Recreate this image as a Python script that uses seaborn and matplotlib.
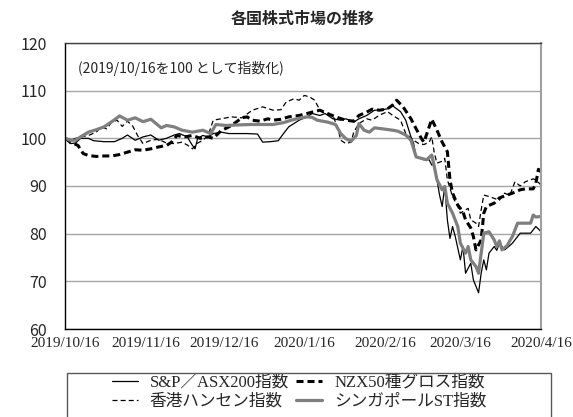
import matplotlib
matplotlib.use('Agg')
import matplotlib.pyplot as plt
from matplotlib.patches import Rectangle
import numpy as np
import pandas as pd
import seaborn as sns

# base date: every series is indexed to 100 on this day
start = pd.Timestamp('2019-10-16')
end = pd.Timestamp('2020-04-16')

tick_dates = ['2019-10-16', '2019-11-16', '2019-12-16', '2020-01-16',
              '2020-02-16', '2020-03-16', '2020-04-16']
tick_labels = ['2019/10/16', '2019/11/16', '2019/12/16', '2020/1/16',
               '2020/2/16', '2020/3/16', '2020/4/16']
y_ticks = [60, 70, 80, 90, 100, 110, 120]

# S&P/ASX200 (days since 2019/10/16, index value)
asx_day = [0, 2, 4, 6, 9, 11, 15, 19, 22, 24, 27, 30, 33, 36, 39, 42, 44, 47, 49, 50,
           51, 53, 55, 57, 60, 63, 67, 70, 74, 76, 79, 82, 84, 86, 88, 90, 93, 95, 98, 100,
           103, 106, 108, 111, 113, 116, 119, 121, 124, 126, 129, 131, 133, 134, 135, 138, 140, 141, 142, 143,
           144, 145, 146, 147, 148, 149, 150, 152, 153, 154, 156, 157, 159, 160, 161, 162, 163, 165, 166, 167,
           169, 171, 172, 174, 175, 179, 181, 182, 183]
asx_val = [100.0, 98.9, 99.0, 100.0, 100.0, 99.5, 99.3, 99.3, 100.0, 100.7, 99.6, 100.3, 100.7, 99.6, 100.0, 100.7, 101.0, 100.3, 98.5, 97.8,
           100.0, 100.6, 100.3, 101.0, 101.3, 101.0, 101.0, 101.0, 100.9, 99.2, 99.3, 99.5, 101.0, 102.4, 103.1, 103.8, 104.5, 105.2, 104.8, 105.2,
           104.1, 103.8, 104.1, 103.4, 104.1, 104.8, 105.9, 105.9, 106.2, 106.8, 105.6, 103.8, 100.3, 99.0, 96.1, 95.5, 95.5, 94.4, 94.5, 91.3,
           88.1, 85.7, 89.9, 82.9, 79.0, 81.5, 79.5, 74.5, 77.3, 71.7, 73.8, 70.3, 67.6, 71.7, 74.5, 72.4, 75.9, 77.3, 76.5, 78.0,
           76.6, 77.5, 78.0, 79.4, 80.1, 80.1, 81.5, 81.0, 80.4]

# NZX50 gross
nzx_day = [0, 3, 5, 7, 9, 12, 15, 18, 21, 24, 27, 30, 33, 36, 39, 41, 43, 46, 49, 52,
           55, 57, 60, 63, 65, 68, 70, 72, 75, 78, 80, 83, 86, 90, 93, 95, 98, 101, 104, 108,
           111, 113, 116, 118, 121, 124, 126, 127.5, 130, 133, 135, 137, 138, 140, 141, 143, 145, 147, 148, 149,
           151, 153, 154, 156, 157, 158, 160, 161, 162, 165, 167, 170, 172, 175, 177, 180, 181, 182, 183]
nzx_val = [100.0, 99.0, 98.5, 96.8, 96.4, 96.2, 96.3, 96.3, 96.6, 97.1, 97.6, 97.5, 97.8, 98.2, 98.5, 99.2, 100.6, 100.3, 100.6, 100.0,
           100.3, 100.0, 101.6, 102.4, 103.1, 104.3, 104.5, 103.8, 103.6, 104.1, 103.8, 104.0, 104.5, 104.8, 105.2, 105.5, 105.9, 105.2, 104.5, 103.8,
           103.6, 104.8, 105.5, 106.1, 105.9, 106.2, 107.0, 108.0, 106.6, 104.1, 102.0, 100.0, 99.2, 102.4, 104.0, 101.7, 99.2, 97.2, 91.3, 88.5,
           86.0, 84.6, 82.9, 81.2, 79.4, 76.6, 78.7, 84.3, 85.7, 86.4, 87.5, 88.1, 88.5, 89.2, 89.4, 89.4, 90.5, 93.5, 93.0]

# Hang Seng
hsi_day = [0, 3, 6, 9, 12, 14, 16, 18, 20, 22, 24, 26, 28, 30, 33, 36, 39, 42, 45, 47,
           49, 51, 53, 55, 57, 60, 64, 68, 72, 76, 80, 83, 85, 88, 90, 92, 94, 96, 98, 100,
           103, 105, 106, 108, 110, 111, 113, 116, 118, 121, 124, 126, 129, 131, 134, 136, 138, 140, 141, 142,
           143, 145, 146, 147, 149, 151, 152, 154, 155, 156, 158, 159, 160, 161, 163, 165, 167, 169, 171, 173,
           175, 177, 179, 180, 181, 183]
hsi_val = [100.0, 99.8, 100.3, 100.6, 101.3, 102.4, 102.0, 103.4, 103.8, 102.5, 103.6, 102.6, 100.5, 98.9, 99.6, 99.8, 99.0, 98.9, 99.2, 98.6,
           97.8, 99.0, 99.6, 100.6, 103.8, 104.1, 104.5, 104.3, 105.9, 106.6, 105.9, 106.0, 107.6, 108.3, 108.0, 109.0, 108.7, 108.0, 105.9, 105.2,
           104.8, 102.0, 99.6, 98.9, 99.2, 101.3, 103.1, 104.1, 103.8, 104.9, 105.6, 104.8, 103.8, 101.0, 99.6, 98.9, 98.7, 99.2, 100.3, 96.9,
           94.8, 95.2, 95.8, 91.3, 87.8, 85.7, 84.3, 85.0, 85.3, 82.9, 82.2, 81.5, 85.0, 88.1, 87.8, 87.4, 87.0, 88.5, 88.0, 90.9,
           90.0, 90.9, 91.3, 91.5, 91.3, 90.2]

# Singapore Straits Times
sti_day = [0, 2, 4, 6, 9, 12, 15, 18, 21, 24, 27, 30, 33, 35, 37, 39, 42, 45, 49, 53,
           56, 58, 62, 66, 71, 75, 80, 84, 87, 89, 93, 95, 97, 101, 104, 106, 108, 110, 112, 113,
           115, 117, 119, 122, 126, 128, 131, 133, 135, 137, 139, 141, 142, 143, 145, 146, 147, 149, 151, 152,
           154, 155, 156, 158, 159, 160, 161, 163, 165, 166, 167, 168, 170, 171, 172, 174, 177, 179, 180, 181,
           183]
sti_val = [100.0, 99.6, 99.6, 100.3, 101.3, 101.8, 102.4, 103.5, 104.7, 103.8, 104.3, 103.5, 104.0, 103.1, 102.2, 102.7, 102.4, 101.7, 101.3, 101.7,
           101.0, 102.9, 102.7, 102.8, 102.9, 102.9, 102.9, 103.3, 103.8, 104.1, 104.5, 104.4, 103.8, 103.4, 102.9, 101.0, 99.9, 99.4, 100.6, 103.1,
           101.7, 101.3, 102.2, 102.0, 101.7, 101.5, 100.7, 99.6, 96.1, 95.8, 95.5, 96.5, 94.0, 91.3, 89.2, 89.9, 86.4, 84.3, 81.5, 78.0,
           75.9, 77.3, 74.5, 73.1, 71.7, 75.9, 80.1, 80.4, 78.7, 77.3, 78.5, 76.6, 77.5, 78.5, 79.4, 82.2, 82.2, 82.2, 83.9, 83.5,
           83.6]

names = ['S&P／ASX200指数', 'NZX50種グロス指数', '香港ハンセン指数', 'シンガポールST指数']
days = [asx_day, nzx_day, hsi_day, sti_day]
vals = [asx_val, nzx_val, hsi_val, sti_val]

frames = []
for name, d, v in zip(names, days, vals):
    frames.append(pd.DataFrame({'date': start + pd.to_timedelta(d, unit='D'),
                                'value': v, 'series': name}))
df = pd.concat(frames, ignore_index=True)

line_styles = {
    'S&P／ASX200指数': dict(color='black', linewidth=0.9, linestyle='-'),
    'NZX50種グロス指数': dict(color='black', linewidth=2.2, linestyle=(0, (2.3, 1.3))),
    '香港ハンセン指数': dict(color='black', linewidth=0.9, linestyle=(0, (4, 2.5))),
    'シンガポールST指数': dict(color='#7f7f7f', linewidth=2.3, linestyle='-'),
}

sns.set_style('white')
plt.rcParams['font.family'] = ['Noto Sans CJK JP', 'DejaVu Sans']

fig = plt.figure(figsize=(5.73, 4.17), dpi=100)
ax = fig.add_axes([65 / 573, 1 - 329 / 417, 476 / 573, 286 / 417])

for name in names:
    sub = df[df['series'] == name]
    sns.lineplot(data=sub, x='date', y='value', estimator=None, sort=False,
                 label=name, ax=ax, **line_styles[name])

ax.set_xlim(start, end)
ax.set_ylim(60, 120)
ax.set_xticks(pd.to_datetime(tick_dates))
ax.set_xticklabels(tick_labels, fontfamily='Liberation Serif', fontsize=11)
ax.set_yticks(y_ticks)
ax.set_yticklabels([str(t) for t in y_ticks], fontsize=11.5)
ax.set_xlabel('')
ax.set_ylabel('')
ax.tick_params(axis='x', direction='in', length=4, width=0.8, color='black', pad=6)
ax.tick_params(axis='y', length=0, pad=13)
ax.yaxis.grid(True, color='#a6a6a6', linewidth=1.0)
ax.xaxis.grid(False)
ax.set_axisbelow(True)

for side in ['left', 'bottom']:
    ax.spines[side].set_color('black')
    ax.spines[side].set_linewidth(1.0)
ax.spines['top'].set_color('#404040')
ax.spines['top'].set_linewidth(1.0)
ax.spines['right'].set_color('#a0a0a0')
ax.spines['right'].set_linewidth(1.5)

ax.text(0.027, 0.912, '(2019/10/16を100 として指数化)', transform=ax.transAxes,
        fontsize=10, va='center', ha='left')

fig.text(303 / 573, 1 - 19 / 417, '各国株式市場の推移', ha='center', va='center',
         fontsize=11.5, fontweight='bold')

# matplotlib fills legend columns first, so reorder to read row by row
handles, labels = ax.get_legend_handles_labels()
order = [0, 2, 1, 3]
leg = ax.legend([handles[i] for i in order], [labels[i] for i in order],
                ncol=2, frameon=False, loc='center',
                bbox_to_anchor=(299 / 573, 1 - 392 / 417), bbox_transform=fig.transFigure,
                prop={'family': ['Liberation Serif', 'Noto Sans CJK JP'], 'size': 12},
                handlelength=1.6, handletextpad=0.7, columnspacing=0.4,
                labelspacing=0.2, borderpad=0)

# legend frame runs off the bottom of the image
fig.patches.append(Rectangle((67 / 573, -0.2), (551 - 67) / 573, 0.2 + 1 - 373 / 417,
                             transform=fig.transFigure, fill=False,
                             edgecolor='#595959', linewidth=1.0))

plt.savefig('out.png', dpi=100)
